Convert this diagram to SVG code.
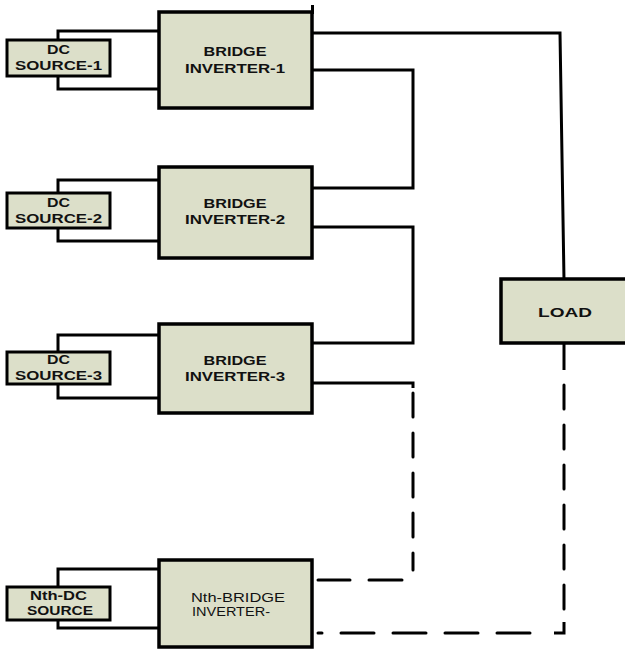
<svg xmlns="http://www.w3.org/2000/svg" width="625" height="649" viewBox="0 0 625 649">
<style>
.box{fill:#dcdfc9;stroke:#000;stroke-width:3.5}
.src{fill:#dcdfc9;stroke:#000;stroke-width:3}
.w{fill:none;stroke:#000;stroke-width:3;stroke-linejoin:miter}
.d{fill:none;stroke:#000;stroke-width:3;stroke-dasharray:24 16;stroke-linecap:round}
.dh{fill:none;stroke:#000;stroke-width:3;stroke-dasharray:33 19;stroke-linecap:round}
text{font-family:"Liberation Sans",Arial,sans-serif;fill:#111;text-anchor:middle}
.b{font-weight:bold;font-size:12.5px}
.n{font-size:13.5px;text-anchor:start}
</style>
<g id="connectors">
<path class="w" d="M58 40 V31 H159 M58 76 V89 H159"/>
<path class="w" d="M58 193 V180 H159 M58 228 V241 H159"/>
<path class="w" d="M58 352 V335 H159 M58 384 V398 H159"/>
<path class="w" d="M58 587 V569 H159 M58 620 V628 H159"/>
<path class="w" d="M312 33 H560 L564 280"/>
<path class="w" d="M312 70 H413 V188 H312"/>
<path class="w" d="M312 227 H413 V343 H312"/>
<path class="w" d="M312 383 H413 V388"/>
<path class="d" d="M413 393 V570"/>
<path class="dh" d="M402 580 H318"/>
<path class="w" d="M564 343 V370"/>
<path class="d" d="M564 385 V622"/>
<path class="w" d="M564 622 V633 H554"/>
<path class="dh" d="M530 633 H318"/>
<path class="w" d="M312.5 5 V14"/>
</g>
<g id="source1"><rect class="src" x="7" y="40" width="103" height="36"/><text class="b" x="58.5" y="54" textLength="23" lengthAdjust="spacingAndGlyphs">DC</text><text class="b" x="58.5" y="70" textLength="87" lengthAdjust="spacingAndGlyphs">SOURCE-1</text></g>
<g id="inverter1"><rect class="box" x="159" y="12" width="153" height="96"/><text class="b" x="235" y="56" textLength="63" lengthAdjust="spacingAndGlyphs">BRIDGE</text><text class="b" x="235" y="73" textLength="100" lengthAdjust="spacingAndGlyphs">INVERTER-1</text></g>
<g id="source2"><rect class="src" x="7" y="193" width="103" height="35"/><text class="b" x="58.5" y="207" textLength="23" lengthAdjust="spacingAndGlyphs">DC</text><text class="b" x="58.5" y="223" textLength="87" lengthAdjust="spacingAndGlyphs">SOURCE-2</text></g>
<g id="inverter2"><rect class="box" x="159" y="167" width="153" height="91"/><text class="b" x="235" y="208" textLength="63" lengthAdjust="spacingAndGlyphs">BRIDGE</text><text class="b" x="235" y="224" textLength="100" lengthAdjust="spacingAndGlyphs">INVERTER-2</text></g>
<g id="source3"><rect class="src" x="7" y="352" width="103" height="32"/><text class="b" x="58.5" y="364" textLength="23" lengthAdjust="spacingAndGlyphs">DC</text><text class="b" x="58.5" y="380" textLength="87" lengthAdjust="spacingAndGlyphs">SOURCE-3</text></g>
<g id="inverter3"><rect class="box" x="159" y="324" width="153" height="89"/><text class="b" x="235" y="365" textLength="63" lengthAdjust="spacingAndGlyphs">BRIDGE</text><text class="b" x="235" y="381" textLength="100" lengthAdjust="spacingAndGlyphs">INVERTER-3</text></g>
<g id="sourceN"><rect class="src" x="7" y="587" width="103" height="33"/><text class="b" x="58.5" y="600" textLength="57" lengthAdjust="spacingAndGlyphs">Nth-DC</text><text class="b" x="60" y="615" textLength="66" lengthAdjust="spacingAndGlyphs">SOURCE</text></g>
<g id="inverterN"><rect class="box" x="159" y="560" width="153" height="87"/><text class="n" x="191" y="602" textLength="94" lengthAdjust="spacingAndGlyphs">Nth-BRIDGE</text><text class="n" x="192" y="616" textLength="78" lengthAdjust="spacingAndGlyphs">INVERTER-</text></g>
<g id="load"><rect class="box" x="501" y="279" width="140" height="64"/><text class="b" x="565" y="317" font-size="13.5px" textLength="54" lengthAdjust="spacingAndGlyphs">LOAD</text></g>
</svg>
